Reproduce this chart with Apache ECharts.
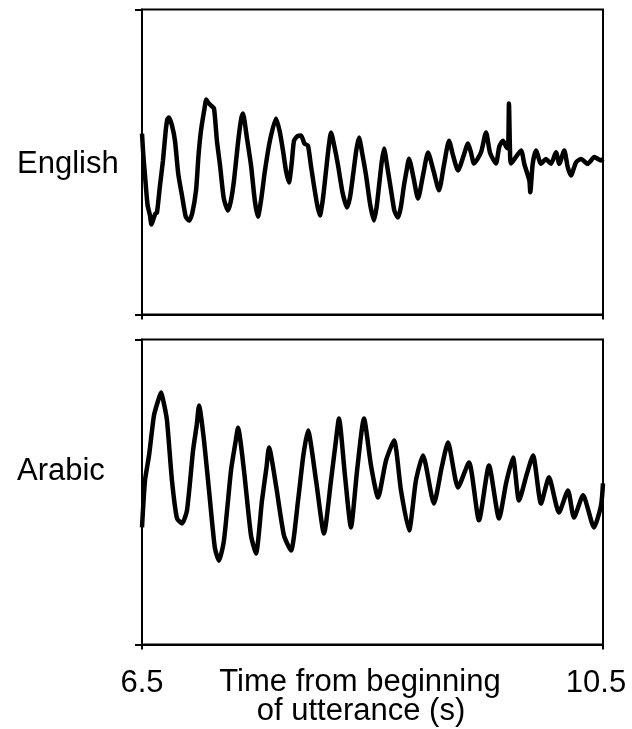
<!DOCTYPE html>
<html>
<head>
<meta charset="utf-8">
<script src="https://cdn.jsdelivr.net/npm/echarts@6/dist/echarts.min.js"></script>
<style>
html,body{margin:0;padding:0;background:#fff;}
#chart{width:632px;height:729px;}
</style>
</head>
<body>
<div id="chart"></div>
<script>
// ---- data (time in s, relative pitch in panel units 0-100) ----
const xTickValues = [6.5, 10.5];
const panelNames = ['English', 'Arabic'];
const axisTitle = ['Time from beginning', 'of utterance (s)'];

const englishTime = [6.500,6.512,6.526,6.548,6.569,6.582,6.595,6.615,6.630,6.655,6.682,6.705,6.720,6.734,6.760,6.786,6.815,6.847,6.880,6.908,6.935,6.969,6.990,7.012,7.040,7.058,7.073,7.100,7.125,7.150,7.177,7.210,7.246,7.270,7.298,7.335,7.360,7.376,7.410,7.446,7.480,7.506,7.535,7.567,7.610,7.663,7.695,7.723,7.750,7.775,7.800,7.819,7.850,7.880,7.910,7.940,7.965,7.992,8.020,8.044,8.070,8.097,8.120,8.140,8.170,8.201,8.240,8.279,8.305,8.331,8.360,8.383,8.410,8.444,8.480,8.513,8.535,8.557,8.580,8.600,8.630,8.661,8.690,8.721,8.745,8.773,8.795,8.817,8.855,8.895,8.940,8.982,9.030,9.077,9.120,9.164,9.200,9.242,9.290,9.329,9.355,9.381,9.441,9.485,9.520,9.571,9.600,9.632,9.660,9.676,9.684,9.693,9.702,9.789,9.817,9.861,9.869,9.890,9.919,9.962,10.005,10.049,10.092,10.121,10.164,10.194,10.222,10.266,10.309,10.367,10.425,10.483,10.500];
const englishValue = [59.3,52.0,45.6,36.0,32.5,29.5,30.8,33.0,33.4,42.0,50.5,60.0,64.0,64.6,62.0,57.0,46.0,39.0,32.0,30.8,33.0,40.7,52.0,60.3,67.0,70.5,69.5,68.5,67.5,57.0,48.9,38.0,34.1,37.0,43.9,57.0,64.0,65.9,58.0,48.9,37.0,32.1,38.0,47.2,57.0,64.3,60.0,53.8,47.0,43.3,50.0,57.0,58.5,58.7,56.0,55.4,49.0,42.3,36.0,32.5,38.0,47.2,55.0,59.7,55.0,48.9,40.0,35.1,38.5,45.6,54.0,58.0,53.0,45.6,36.0,30.8,35.0,42.3,50.0,54.4,48.0,40.7,34.0,31.8,35.0,42.3,47.0,51.1,45.0,38.0,46.0,53.1,47.0,40.7,49.0,57.0,52.0,47.2,52.0,56.1,53.0,49.5,53.1,59.7,53.0,49.5,55.0,57.0,55.0,54.4,69.2,53.8,49.5,53.8,49.4,43.9,40.1,49.4,53.8,49.4,51.0,49.4,53.2,49.4,53.8,48.3,45.6,49.9,51.0,49.4,51.6,50.5,51.0];

const arabicTime = [6.500,6.526,6.561,6.604,6.640,6.665,6.690,6.717,6.760,6.804,6.847,6.890,6.943,6.975,6.995,7.038,7.090,7.133,7.168,7.211,7.272,7.310,7.333,7.385,7.446,7.489,7.541,7.580,7.602,7.663,7.732,7.793,7.854,7.900,7.940,8.010,8.079,8.140,8.180,8.209,8.261,8.313,8.366,8.426,8.487,8.548,8.617,8.687,8.747,8.817,8.877,8.938,9.033,9.100,9.155,9.242,9.337,9.424,9.511,9.598,9.660,9.719,9.771,9.840,9.893,9.962,10.031,10.118,10.196,10.248,10.327,10.422,10.483,10.500];
const arabicValue = [38.4,53.8,62.0,75.1,80.0,82.6,79.0,73.4,53.8,41.3,39.7,43.9,63.6,72.0,78.4,66.9,47.2,31.5,27.5,34.1,57.0,66.0,71.1,57.0,35.7,29.8,47.2,58.0,64.6,52.1,35.7,30.8,47.2,62.0,70.2,53.8,36.4,53.8,66.0,74.1,55.4,38.4,57.0,74.1,58.7,48.2,60.3,66.9,50.5,37.4,53.8,62.0,46.2,58.0,66.2,51.5,59.7,40.7,58.7,41.3,53.0,61.3,47.2,56.0,62.0,46.2,54.8,43.3,50.5,41.6,48.9,38.4,45.6,52.8];

function pairs(ts, vs) { return ts.map((t, i) => [t, vs[i]]); }

const FONT = "'Liberation Sans', Arial, Helvetica, sans-serif";
const FS = 31;
const chart = echarts.init(document.getElementById('chart'), null, {renderer: 'canvas'});

const grids = [
  {left: 142, top: 9.5, width: 461, height: 305},
  {left: 142, top: 339.5, width: 461, height: 305}
];

function xAxisFor(idx, showLabels) {
  return {
    type: 'value', gridIndex: idx, min: 6.5, max: 10.5,
    axisLine: {show: true, onZero: false, lineStyle: {color: '#000', width: 2}},
    axisTick: {show: true, customValues: xTickValues, length: 5, lineStyle: {color: '#000', width: 2}},
    splitLine: {show: false},
    axisLabel: {
      show: showLabels, customValues: xTickValues, margin: 23,
      color: '#000', fontSize: FS, fontFamily: FONT,
      formatter: v => v === 10.5 ? '{r|10.5}' : String(v),
      rich: {r: {fontSize: FS, fontFamily: FONT, color: '#000', padding: [0, 14, 0, 0]}}
    }
  };
}
function yAxisFor(idx) {
  return {
    type: 'value', gridIndex: idx, min: 0, max: 100, interval: 100,
    axisLine: {show: true, lineStyle: {color: '#000', width: 2}},
    axisTick: {show: true, length: 7, lineStyle: {color: '#000', width: 2}},
    axisLabel: {show: false}, splitLine: {show: false}
  };
}

chart.setOption({
  animation: false,
  backgroundColor: '#fff',
  grid: grids.map(g => Object.assign({show: true, borderColor: '#000', borderWidth: 2, containLabel: false}, g)),
  xAxis: [xAxisFor(0, false), xAxisFor(1, true)],
  yAxis: [yAxisFor(0), yAxisFor(1)],
  series: [
    {type: 'line', xAxisIndex: 0, yAxisIndex: 0, data: pairs(englishTime, englishValue), showSymbol: false, smooth: 0.2,
     lineStyle: {color: '#000', width: 4.5, join: 'round'}},
    {type: 'line', xAxisIndex: 1, yAxisIndex: 1, data: pairs(arabicTime, arabicValue), showSymbol: false, smooth: 0.2,
     lineStyle: {color: '#000', width: 4.5, join: 'round'}}
  ],
  graphic: [
    {type: 'text', x: 17, y: 164.5, style: {text: panelNames[0], font: FS + 'px ' + FONT, fill: '#000', textAlign: 'left', textVerticalAlign: 'middle'}},
    {type: 'text', x: 17, y: 471.5, style: {text: panelNames[1], font: FS + 'px ' + FONT, fill: '#000', textAlign: 'left', textVerticalAlign: 'middle'}},
    {type: 'text', x: 360, y: 682.5, style: {text: axisTitle[0], font: FS + 'px ' + FONT, fill: '#000', textAlign: 'center', textVerticalAlign: 'middle'}},
    {type: 'text', x: 361, y: 711.5, style: {text: axisTitle[1], font: FS + 'px ' + FONT, fill: '#000', textAlign: 'center', textVerticalAlign: 'middle'}}
  ]
});
</script>
</body>
</html>
